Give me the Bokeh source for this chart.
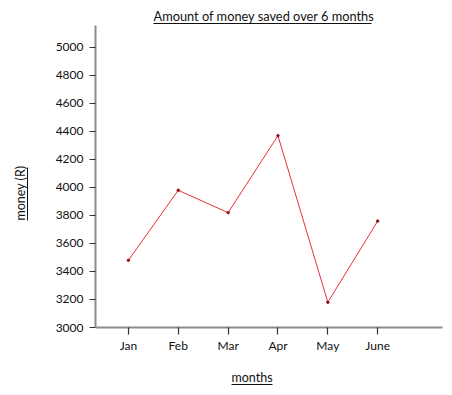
from bokeh.plotting import figure
from bokeh.embed import file_html
from bokeh.resources import INLINE
from bokeh.models import Range1d, FixedTicker, LinearAxis, Title, ColumnDataSource

months = ["Jan", "Feb", "Mar", "Apr", "May", "June"]
month_pos = [1, 2, 3, 4, 5, 6]
money = [3480, 3980, 3820, 4370, 3180, 3760]
y_ticks = [3000, 3200, 3400, 3600, 3800, 4000, 4200, 4400, 4600, 4800, 5000]

FONT = "Lato"
AXIS_COLOR = "#8c8c8c"
TXT = "#111111"

p = figure(width=450, height=393, output_backend="svg", toolbar_location=None,
           x_range=Range1d(0.34, 7.3), y_range=Range1d(3000, 5171),
           min_border_left=95, min_border_right=8, min_border_top=23, min_border_bottom=66)
p.outline_line_color = None
p.grid.grid_line_color = None
# pixel-like ranges used only to place decorative underlines / spacers
p.extra_x_ranges = {"px": Range1d(95, 442)}
p.extra_y_ranges = {"px": Range1d(-327, -23)}

src = ColumnDataSource(dict(x=month_pos, y=money))
p.line("x", "y", source=src, line_color="#e8303a", line_width=1)
p.scatter("x", "y", source=src, size=2.5, color="#8b1a1a")

for ax in (p.xaxis, p.yaxis):
    ax.axis_line_color = AXIS_COLOR
    ax.axis_line_width = 2
    ax.major_tick_line_color = "#333333"
    ax.major_tick_line_width = 1.2
    ax.minor_tick_line_color = None
    ax.major_label_text_font = FONT
    ax.major_label_text_font_size = "12px"
    ax.major_label_text_color = TXT

p.yaxis.ticker = FixedTicker(ticks=y_ticks)
p.yaxis.bounds = (3000, 5157)
p.yaxis.major_tick_out = 6
p.yaxis.major_tick_in = 0
p.yaxis.major_label_standoff = 6

p.xaxis.ticker = FixedTicker(ticks=month_pos)
p.xaxis.major_label_overrides = {i: m for i, m in zip(month_pos, months)}
p.xaxis.major_tick_out = 7
p.xaxis.major_tick_in = 0
p.xaxis.major_label_standoff = 3


def underline_axis(bounds, horizontal=True):
    kw = dict(ticker=FixedTicker(ticks=[]), major_tick_out=0, major_tick_in=0,
              minor_tick_out=0, minor_tick_in=0, major_label_standoff=0,
              major_tick_line_color=None, minor_tick_line_color=None,
              bounds=bounds, axis_line_color=TXT, axis_line_width=1)
    kw["x_range_name" if horizontal else "y_range_name"] = "px"
    return LinearAxis(**kw)


def spacer_axis(size, at, horizontal=True):
    # an invisible (white, tiny) axis whose tick length reserves `size` pixels
    kw = dict(ticker=FixedTicker(ticks=[at]), major_tick_out=size, major_tick_in=0,
              minor_tick_out=0, minor_tick_in=0, major_label_standoff=0,
              major_label_overrides={at: ""}, major_label_text_font_size="0px",
              major_tick_line_color="white", minor_tick_line_color=None,
              bounds=(at - 0.5, at + 0.5), axis_line_color="white", axis_line_width=1)
    kw["x_range_name" if horizontal else "y_range_name"] = "px"
    return LinearAxis(**kw)


def txt(text, offset, size="12.5px"):
    return Title(text=text, text_font=FONT, text_font_size=size,
                 text_font_style="normal", text_color=TXT, align="left",
                 vertical_align="bottom", offset=offset, standoff=0)


# chart title with underline
p.add_layout(underline_axis((153, 371)), "above")
p.add_layout(txt("Amount of money saved over 6 months", 58, size="12.8px"), "above")

# y axis title with underline
p.add_layout(spacer_axis(25, -24, horizontal=False), "left")
p.add_layout(underline_axis((-220, -167), horizontal=False), "left")
p.add_layout(txt("money (R)", 107), "left")

# x axis title with underline
p.add_layout(spacer_axis(12, 441), "below")
p.add_layout(txt("months", 136), "below")
p.add_layout(underline_axis((231, 272)), "below")

open("out.html", "w").write(file_html(p, INLINE))
